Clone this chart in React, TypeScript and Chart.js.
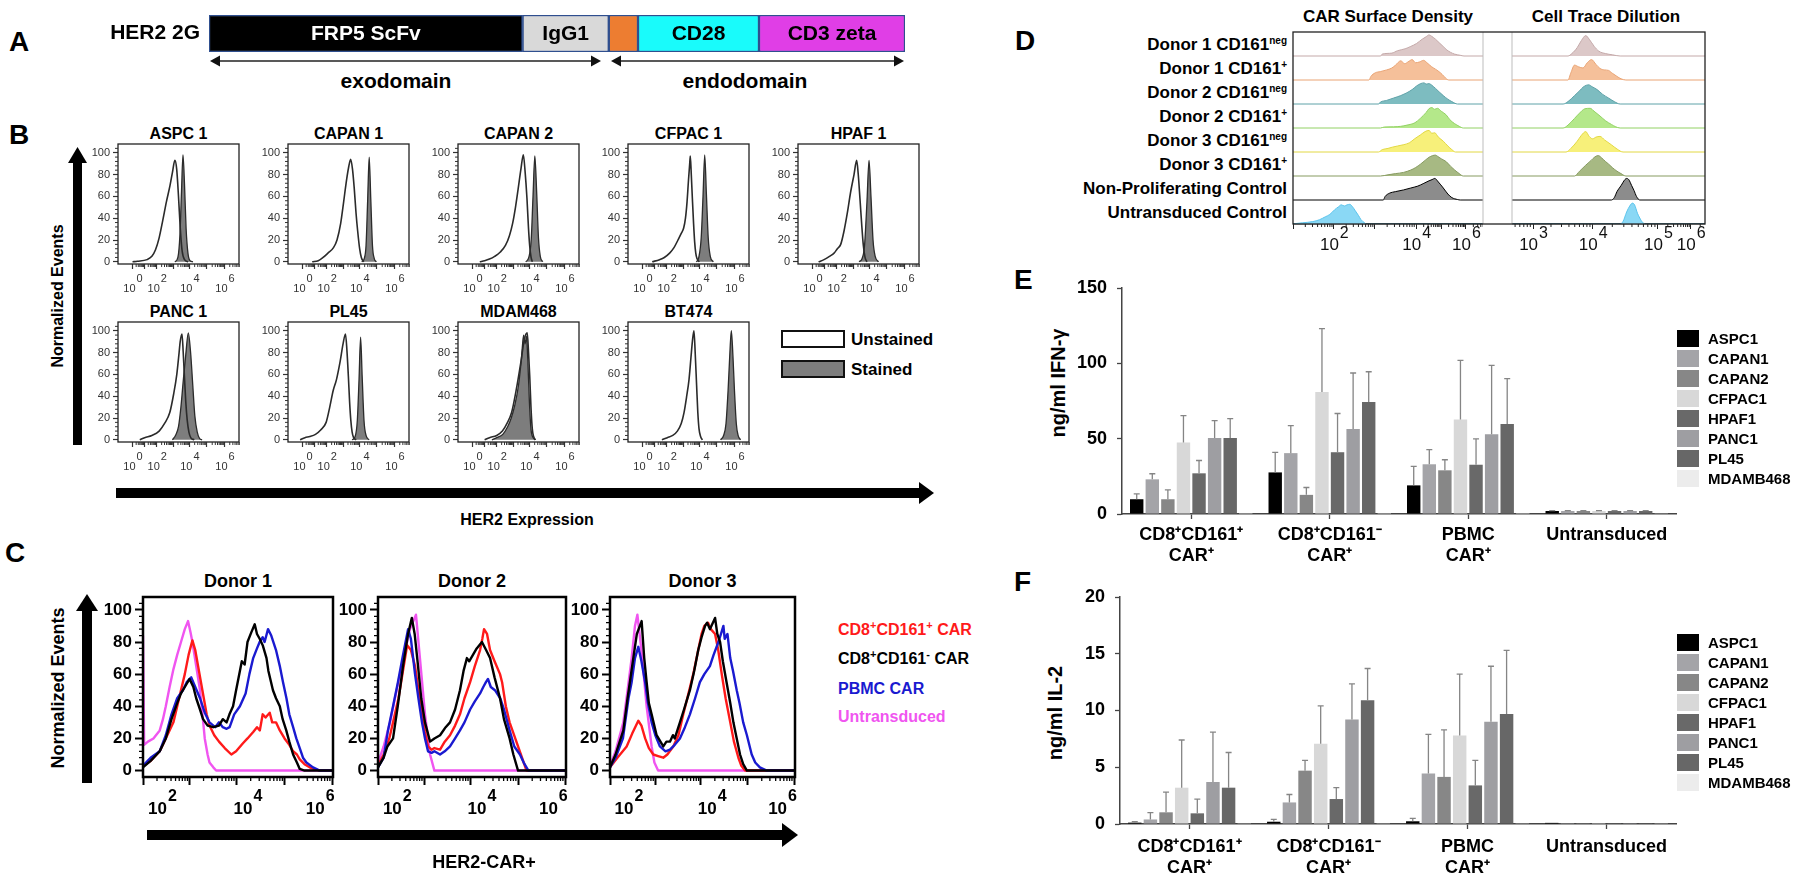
import React, { useEffect, useRef } from "react";
import { Chart, registerables } from "chart.js";

Chart.register(...registerables);

const FONT = "'Liberation Sans', Arial, Helvetica, sans-serif";

/* ================= Panel A data ================= */
const constructName = "HER2 2G";
const constructParts = ["FRP5 ScFv", "IgG1", "", "CD28", "CD3 zeta"];
const constructLengths = [45.1, 12.4, 4.2, 17.4, 21.0];
const constructColors = ["#000000", "#d9d9d9", "#ed7d31", "#19fbfb", "#e03ee6"];
const constructTextColors = ["#ffffff", "#000000", "#000000", "#000000", "#000000"];
const domainLabels = ["exodomain", "endodomain"];

/* ================= Panel B data ================= */
const bCellLines = ["ASPC 1", "CAPAN 1", "CAPAN 2", "CFPAC 1", "HPAF 1", "PANC 1", "PL45", "MDAM468", "BT474"];
const bYTicks = [0, 20, 40, 60, 80, 100];
const bDecades = [12, 22, 32, 45.5, 59, 73.5, 88, 102.5];
const bExpPos = [12, 32, 59, 88];
const bExpLabels = ["0", "2", "4", "6"];
const bLegend = ["Unstained", "Stained"];

const aspc1Unstained = [[12,0],[16,0.5],[24,2],[28,5],[31,11],[34,22],[37,38],[40,55],[43,70],[45,82],[47,93],[48.5,85],[50,60],[51.5,30],[53,10],[55,2],[58,0]];
const aspc1Stained = [[47,0],[49.5,4],[51.2,25],[52.5,65],[53.7,98],[55,70],[56.3,30],[57.8,8],[59.5,1],[62,0]];
const capan1Unstained = [[20,0],[25,1],[29,4],[33,8],[37.6,13],[40.5,20],[43.5,35],[46,55],[48,72],[50,86],[51.8,94],[53.3,85],[54.7,68],[56.2,45],[57.6,28],[59.2,12],[60.6,4],[62.6,0]];
const capan1Stained = [[61,0],[63,3],[64.5,15],[65.8,55],[67.1,96],[68.4,58],[69.8,15],[71.3,3],[73,0]];
const capan2Unstained = [[18,0],[22,1],[26,2.5],[30.3,5],[35,9],[39.2,15],[42.5,24],[45.1,35],[47.5,50],[49.6,66],[52,85],[54,98],[55.5,82],[57,58],[58.2,32],[59.3,14],[60.4,4],[61.5,0]];
const capan2Stained = [[56,0],[58.5,4],[60.5,20],[62,60],[63.5,97],[65,64],[66.5,22],[68,5],[70,0]];
const cfpac1Unstained = [[20,0],[26,2],[30,4],[34.4,8],[38,13],[41.3,20],[44,26],[46,31],[47.5,40],[48.8,55],[50,75],[51,90],[51.5,97],[52.3,80],[53.2,58],[54.2,35],[55.1,18],[56,8],[57,3],[59,0]];
const cfpac1Stained = [[56.5,0],[58.5,4],[60.5,22],[62,60],[63.4,98],[64.8,62],[66.3,22],[68,5],[70.5,0]];
const hpaf1Unstained = [[17,0],[21.5,2],[26,5],[29.8,8],[32.5,12],[35.3,16],[38,28],[40.8,45],[43.5,64],[46.3,80],[48.5,93],[49.8,80],[51.2,58],[52.6,35],[54,15],[55.4,4],[57,0]];
const hpaf1Stained = [[50.5,0],[53,3],[55,15],[57,55],[58.7,93],[60.3,60],[62,20],[63.8,5],[66.5,0]];
const panc1Unstained = [[18,0],[22,2],[28,4],[34,8],[38.5,15],[42.8,25],[46,42],[48.6,60],[50.5,80],[51.4,90],[52.9,97],[53.9,80],[54.9,58],[56,35],[57.2,18],[58.6,7],[60.1,2],[63,0]];
const panc1Stained = [[45,0],[47.5,4],[50,12],[52,30],[54,55],[56,78],[58.1,98],[60,80],[61.8,50],[63.5,22],[65.5,7],[67.5,1],[69.5,0]];
const pl45Unstained = [[10,0],[14,2],[18,3],[22.7,5],[27,9],[31.5,16],[34.5,30],[37.3,45],[40,55],[43.1,72],[45.5,88],[47.5,97],[48.7,82],[49.9,58],[50.9,35],[51.9,18],[53,7],[54.2,2],[56.3,0]];
const pl45Stained = [[53,0],[55.5,3],[57.3,18],[58.7,55],[60,94],[61.3,58],[62.8,18],[64.5,4],[67,0]];
const mdam468Unstained = [[22,0],[26,2],[32,4],[36.7,8],[40.5,15],[44.3,25],[48,45],[51.8,70],[54.8,92],[57.2,98],[58.3,80],[59.3,58],[60.3,30],[61.4,10],[62.5,3],[64,0]];
const mdam468Stained = [[28,0],[32,2],[37,5],[41,12],[44,20],[47,32],[50,50],[52.5,75],[54.2,96],[55.5,88],[56.6,95],[57.8,70],[59,35],[60.3,10],[62,2],[64,0]];
const bt474Unstained = [[28,0],[32.5,2],[37,4],[40.8,8],[44,15],[46.3,25],[48.5,40],[50.4,55],[52,75],[53.2,90],[54.5,100],[55.6,78],[56.7,50],[57.7,25],[58.7,10],[60,3],[61.5,0]];
const bt474Stained = [[76.5,0],[79,4],[81,15],[82.7,45],[84,75],[85.4,100],[86.8,75],[88,45],[89.5,15],[91,4],[93,0]];

const bUnstained = [aspc1Unstained, capan1Unstained, capan2Unstained, cfpac1Unstained, hpaf1Unstained, panc1Unstained, pl45Unstained, mdam468Unstained, bt474Unstained];
const bStained = [aspc1Stained, capan1Stained, capan2Stained, cfpac1Stained, hpaf1Stained, panc1Stained, pl45Stained, mdam468Stained, bt474Stained];

/* ================= Panel C data ================= */
const cDonors = ["Donor 1", "Donor 2", "Donor 3"];
const cYTicks = [0, 20, 40, 60, 80, 100];
const cDecades = [-24.5, 0, 24.5, 49, 74.5, 99.5];
const cExpPos = [10, 55, 93];
const cExpLabels = ["2", "4", "6"];
const cSeriesColors = ["#000000", "#1a1ad0", "#ff1a1a", "#f055f0"]; // CD161-, PBMC, CD161+, Untransduced

const donor1Cd161Neg = [[0,2],[4,6],[8.8,12],[12,20],[15,32],[18,42],[20,48],[22,52],[24.5,57],[26.5,52],[28,45],[30,38],[31.6,32],[34,28],[37,27],[40,28],[42,32],[44,30],[45.5,35],[47.4,40],[49,50],[51,62],[52,68],[53.5,66],[55,80],[57,86],[58.8,91],[60,85],[61.4,82],[63,78],[65,70],[66,62],[68.4,50],[70,45],[72,40],[73.5,32],[75.4,25],[77,18],[79,10],[81,5],[82.5,1],[85,0],[100,0]];
const donor1Pbmc = [[0,3],[4,8],[8.8,12],[12,22],[15,35],[18,45],[21,50],[23,55],[25.4,58],[27.5,52],[30,45],[32.5,36],[35,30],[38,27],[40,30],[42,27],[44,26],[45.6,27],[48,35],[51,40],[54,48],[56,60],[58,70],[60,76],[61.4,80],[63,83],[64,80],[65.8,88],[67.5,84],[70,75],[72,65],[73.7,55],[75.5,45],[77,35],[79,27],[80.7,20],[82.5,14],[84.2,8],[86,5],[89.5,2],[93,0],[100,0]];
const donor1Cd161Pos = [[0,3],[4,6],[8.8,12],[12,20],[16,30],[19,45],[22,60],[24,72],[26,81],[27.5,75],[29,65],[30.5,55],[32,45],[33.5,35],[35,28],[37.5,22],[40,18],[43,14],[46.5,10],[49,12],[52.6,17],[55,20],[58,24],[60,27],[61.5,25],[63,35],[64.5,33],[66.7,36],[68,30],[70,30],[72,25],[74.5,20],[77,16],[79,12],[81,10],[82.5,7],[85,4],[87.7,2],[90,1],[93,0],[100,0]];
const donor1Untransduced = [[0,84],[0.6,16],[2.6,18],[5.5,20],[8.8,25],[10.5,32],[12,40],[14,52],[16,63],[18,72],[20,80],[22,88],[23.7,93],[25,86],[26,80],[28,65],[30,50],[31.3,35],[32.5,20],[34,10],[35,5],[37,2],[38.5,0],[100,0]];

const donor2Cd161Neg = [[0,2],[3,8],[5,15],[8,20],[10.5,40],[13.3,65],[16,85],[18,95],[19.5,85],[21.3,65],[23,45],[25,30],[27.7,18],[30,20],[33,22],[36,27],[38.3,30],[41,38],[43.6,50],[45.5,62],[47.3,70],[48.5,68],[50.5,72],[52.5,76],[55.3,80],[57.5,75],[59.6,70],[62,58],[64.9,45],[67,32],[70,20],[72,10],[74.5,0],[100,0]];
const donor2Pbmc = [[0,2],[3,8],[5.3,25],[8,40],[10.6,55],[13,70],[16,88],[17.5,82],[19.7,60],[21.5,45],[23.4,30],[25,20],[26.6,12],[28.5,11],[30,12],[33,10],[35.5,12],[38.3,15],[41,20],[43.6,25],[46,30],[49,38],[51.5,43],[54.3,48],[56,52],[57.4,55],[58.5,57],[60,52],[62.2,50],[65,45],[67,38],[70,25],[72.5,15],[75.5,10],[77.5,5],[80,0],[100,0]];
const donor2Cd161Pos = [[0,3],[3,10],[6,20],[8,30],[10.9,45],[13,60],[15.5,78],[17.5,75],[19.7,65],[21.5,50],[23.4,35],[25,24],[26.6,15],[28.5,13],[30,14],[33,13],[35.5,18],[38.3,22],[41,28],[43.6,35],[46,45],[49,55],[51.5,65],[54.3,75],[55.5,82],[56.4,88],[58,85],[59.6,75],[62,68],[64.9,60],[66,55],[68,40],[70,30],[73,20],[76,10],[79,0],[100,0]];
const donor2Untransduced = [[0,5],[3,15],[6.4,30],[9,45],[11.7,60],[14.5,75],[17,88],[20.2,97],[22.3,70],[25,35],[27.7,10],[30,0],[100,0]];

const donor3Cd161Neg = [[0,2],[3,10],[7.2,25],[9.5,45],[12.6,70],[14.5,85],[17.1,93],[18.5,70],[19.8,55],[21,42],[22.5,35],[25.2,22],[28.8,15],[30.5,18],[32.4,18],[34,22],[35,20],[37.8,30],[40,38],[43.2,50],[45.5,62],[47.7,75],[49.5,83],[51.4,90],[52.5,92],[54,88],[56.8,95],[58,85],[59.5,80],[61,68],[63,55],[65,42],[66.7,30],[68.5,20],[70.3,10],[72,4],[74,0],[100,0]];
const donor3Pbmc = [[0,2],[3,8],[7,20],[10,45],[11.7,55],[13.5,70],[15.3,77],[17,68],[19,55],[20.5,42],[22.5,30],[24.5,22],[27,15],[30,12],[32.4,13],[35,16],[37.8,20],[40.5,27],[43.2,35],[46,45],[48.6,55],[51,60],[54,65],[56,72],[58.6,80],[60,85],[61.3,90],[62,82],[63.5,85],[65,70],[66.5,62],[68.5,50],[70,42],[72,30],[74,22],[76.6,10],[78.5,5],[81,2],[84.7,0],[100,0]];
const donor3Cd161Pos = [[0,2],[4,8],[9,15],[12,23],[15.3,31],[17,28],[19,20],[21,14],[23.4,10],[26,9],[28.8,8],[31,10],[34.2,15],[37,22],[39.6,35],[42,46],[45,60],[47.5,74],[49.5,85],[51,90],[53,92],[54.5,88],[56.8,85],[58.5,75],[60.4,60],[62.5,45],[65,30],[67,18],[69.4,8],[71,3],[73,0],[100,0]];
const donor3Untransduced = [[0,3],[3,12],[7.2,30],[9.5,50],[11.7,70],[13.5,90],[14.8,97],[17,75],[19.8,40],[22.5,15],[24,5],[26,0],[100,0]];

const cCurves = [
  [donor1Cd161Neg, donor1Pbmc, donor1Cd161Pos, donor1Untransduced],
  [donor2Cd161Neg, donor2Pbmc, donor2Cd161Pos, donor2Untransduced],
  [donor3Cd161Neg, donor3Pbmc, donor3Cd161Pos, donor3Untransduced],
];

/* ================= Panel D data ================= */
const dTitles = ["CAR Surface Density", "Cell Trace Dilution"];
const dRowNames = ["Donor 1 CD161", "Donor 1 CD161", "Donor 2 CD161", "Donor 2 CD161", "Donor 3 CD161", "Donor 3 CD161", "Non-Proliferating Control", "Untransduced Control"];
const dRowSups = ["neg", "+", "neg", "+", "neg", "+", "", ""];
const dFill = ["#dcc8c8", "#f5c09a", "#7dbcc0", "#b4e88a", "#f7f07a", "#a7b983", "#8c8c8c", "#8ad8f5"];
const dLine = ["#c4a9a9", "#e9a475", "#5fa2a8", "#92d164", "#e2d844", "#879b61", "#000000", "#5cc4ec"];
const dCarDecades = [0, 21.5, 43, 64.8, 78, 91, 104];
const dCarExpPos = [21.5, 64.8, 91];
const dCarExpLabels = ["2", "4", "6"];
const dCtdDecades = [-20, 10.9, 41.8, 75.6, 92.6, 109];
const dCtdExpPos = [10.9, 41.8, 75.6, 92.6];
const dCtdExpLabels = ["3", "4", "5", "6"];

const carDonor1Neg = [[0,0],[46,0],[47,0.08],[52,0.12],[55,0.22],[59,0.3],[62,0.4],[65,0.52],[68,0.7],[70,0.8],[71.6,0.88],[73,0.82],[75,0.7],[77,0.55],[79,0.4],[81,0.25],[83,0.15],[85,0.08],[88,0.03],[90,0],[100,0]];
const carDonor1Pos = [[0,0],[40,0],[41,0.15],[43.3,0.3],[46,0.35],[49.3,0.42],[52,0.5],[54,0.62],[56.7,0.8],[58.8,0.68],[61,0.78],[62.7,0.85],[64.5,0.72],[66.5,0.75],[68.7,0.82],[70.5,0.72],[73,0.55],[75,0.45],[77.6,0.3],[79.5,0.15],[81,0.03],[82,0],[100,0]];
const carDonor2Neg = [[0,0],[45,0],[46,0.08],[49.3,0.15],[53,0.25],[56.7,0.35],[59.5,0.45],[62.7,0.6],[65,0.75],[67.2,0.85],[69,0.88],[70.1,0.83],[71.5,0.85],[73.1,0.78],[75,0.65],[77,0.5],[79.1,0.35],[81.5,0.2],[83.6,0.1],[86.6,0],[100,0]];
const carDonor2Pos = [[0,0],[46,0],[48,0.04],[53,0.05],[56.7,0.07],[60,0.12],[64.2,0.22],[67,0.4],[70.1,0.65],[71.5,0.8],[73.1,0.85],[74.5,0.78],[76.1,0.82],[78,0.7],[80.6,0.55],[82.5,0.35],[85.1,0.18],[87.5,0.07],[89.6,0],[100,0]];
const carDonor3Neg = [[0,0],[45,0],[47,0.1],[50,0.15],[52.2,0.2],[55,0.25],[58,0.3],[61.2,0.38],[64,0.55],[67.2,0.72],[69.5,0.85],[71.6,0.9],[73,0.78],[74.6,0.8],[76.5,0.62],[79.1,0.45],[81.5,0.25],[83.6,0.1],[85.5,0],[100,0]];
const carDonor3Pos = [[0,0],[46,0],[50,0.05],[54,0.1],[58.2,0.15],[62,0.25],[64.5,0.35],[67.2,0.5],[69.5,0.65],[71.6,0.78],[73.5,0.85],[75,0.87],[76.1,0.82],[78,0.72],[80.6,0.6],[83,0.4],[85.1,0.25],[87.5,0.1],[89.6,0],[100,0]];
const carNonProlif = [[0,0],[47.5,0],[48.5,0.15],[50.7,0.28],[54,0.35],[58.2,0.42],[62,0.5],[65.7,0.58],[68.5,0.68],[71.6,0.8],[73.2,0.85],[74.6,0.9],[76.5,0.75],[79.1,0.5],[81.5,0.25],[83.6,0.1],[86.6,0.02],[88,0],[100,0]];
const carUntransduced = [[0,0],[1.5,0.02],[5,0.05],[10.4,0.1],[14,0.18],[17,0.3],[19.4,0.4],[22,0.6],[24,0.72],[25.4,0.8],[27,0.75],[28.5,0.8],[29.9,0.82],[31.5,0.7],[32.8,0.55],[34.5,0.35],[35.8,0.18],[37.5,0.06],[38.8,0],[100,0]];

const ctdDonor1Neg = [[0,0],[29,0],[31,0.1],[33.8,0.35],[36,0.65],[38.2,0.85],[40,0.7],[42.6,0.4],[45,0.2],[48.5,0.1],[52,0.05],[56,0],[100,0]];
const ctdDonor1Pos = [[0,0],[29,0],[30.5,0.3],[32.4,0.62],[34.5,0.55],[36.8,0.5],[39,0.72],[41.2,0.85],[43.5,0.65],[45.6,0.48],[48,0.42],[50,0.4],[52,0.28],[54.4,0.15],[56.5,0.05],[59,0],[100,0]];
const ctdDonor2Neg = [[0,0],[26.5,0],[29,0.1],[32.4,0.35],[35,0.55],[36.8,0.7],[38.5,0.78],[39.7,0.8],[41.5,0.72],[44.1,0.6],[47,0.4],[50,0.25],[53,0.1],[56,0],[100,0]];
const ctdDonor2Pos = [[0,0],[26.5,0],[29,0.12],[32.4,0.4],[35,0.62],[37.7,0.8],[40.5,0.82],[42.5,0.7],[45.6,0.5],[48.5,0.3],[51.5,0.15],[53.5,0.06],[56,0],[100,0]];
const ctdDonor3Neg = [[0,0],[28,0],[30.5,0.15],[33.8,0.45],[36,0.7],[38.2,0.85],[40,0.65],[41.8,0.55],[43.5,0.62],[45.6,0.65],[48,0.5],[51.5,0.3],[54.5,0.12],[57.5,0],[100,0]];
const ctdDonor3Pos = [[0,0],[32.4,0],[35,0.2],[38.2,0.45],[41,0.65],[43,0.8],[44.7,0.85],[46.5,0.75],[48.5,0.6],[50,0.5],[52,0.35],[54.4,0.2],[56.5,0.1],[59,0],[100,0]];
const ctdNonProlif = [[0,0],[51.5,0],[53,0.1],[54.4,0.35],[56.5,0.6],[58.5,0.85],[59.4,0.9],[60.5,0.85],[62,0.6],[63.2,0.4],[64.5,0.15],[66.2,0],[100,0]];
const ctdUntransduced = [[0,0],[55.9,0],[57.5,0.1],[59.4,0.5],[61,0.75],[62.4,0.87],[63.5,0.8],[65,0.45],[66.2,0.25],[67.5,0.08],[69.1,0],[100,0]];

const dCarRows = [carDonor1Neg, carDonor1Pos, carDonor2Neg, carDonor2Pos, carDonor3Neg, carDonor3Pos, carNonProlif, carUntransduced];
const dCtdRows = [ctdDonor1Neg, ctdDonor1Pos, ctdDonor2Neg, ctdDonor2Pos, ctdDonor3Neg, ctdDonor3Pos, ctdNonProlif, ctdUntransduced];

/* ================= Panels E & F data ================= */
const cellLines = ["ASPC1", "CAPAN1", "CAPAN2", "CFPAC1", "HPAF1", "PANC1", "PL45", "MDAMB468"];
const cellColors = ["#000000", "#a4a4a8", "#878787", "#d8d8d8", "#696969", "#9e9ea2", "#676767", "#ececec"];
const groupLabels = [["CD8⁺CD161⁺", "CAR⁺"], ["CD8⁺CD161⁻", "CAR⁺"], ["PBMC", "CAR⁺"], ["Untransduced"]];

const ifnCd161Pos = [9.8, 23, 9.8, 47.5, 27, 50.4, 50.4, 0.6];
const ifnCd161PosErr = [3.5, 3.7, 6.2, 17.8, 8.5, 11.6, 12.9, 0];
const ifnCd161Neg = [27.6, 40.4, 12.7, 81, 41, 56.4, 74.4, 0.6];
const ifnCd161NegErr = [13.3, 18.3, 4.9, 42, 25.7, 37.2, 20, 0];
const ifnPbmc = [19, 33, 29, 62.7, 32.7, 52.9, 59.8, 0.6];
const ifnPbmcErr = [12.6, 9.7, 7, 39.3, 17.1, 45.8, 30, 0];
const ifnUntransduced = [2, 2, 2, 2, 2, 2, 2, 0.5];
const ifnUntransducedErr = [0.3, 0.2, 0.2, 0.2, 0.2, 0.2, 0.2, 0];

const il2Cd161Pos = [0.12, 0.4, 1.03, 3.2, 0.94, 3.7, 3.2, 0.02];
const il2Cd161PosErr = [0.08, 0.6, 1.77, 4.2, 1.26, 4.4, 3.1, 0];
const il2Cd161Neg = [0.2, 1.9, 4.7, 7.06, 2.2, 9.2, 10.9, 0.02];
const il2Cd161NegErr = [0.2, 0.7, 0.9, 3.34, 1.0, 3.15, 2.8, 0];
const il2Pbmc = [0.24, 4.45, 4.15, 7.8, 3.4, 9.0, 9.7, 0.02];
const il2PbmcErr = [0.26, 3.45, 4.15, 5.4, 2.2, 4.9, 5.6, 0];
const il2Untransduced = [0.1, 0.08, 0.08, 0.08, 0.08, 0.08, 0.08, 0.02];
const il2UntransducedErr = [0, 0, 0, 0, 0, 0, 0, 0];

/* ================= helpers & plugins ================= */
const toXY = (pts: number[][]) => pts.map(([x, y]) => ({ x, y }));

function logMinors(decades: number[]) {
  const out: number[] = [];
  for (let i = 0; i < decades.length - 1; i++) {
    const a = decades[i], b = decades[i + 1];
    for (let k = 2; k <= 9; k++) out.push(a + (b - a) * Math.log10(k));
  }
  return out;
}

function stepMinors(min: number, max: number, step: number, skip: number) {
  const out: number[] = [];
  for (let v = min; v <= max + 1e-9; v += step) if (Math.abs(v % skip) > 1e-6) out.push(v);
  return out;
}

function makeFrame(color: string, width: number) {
  return {
    id: "frame",
    afterDatasetsDraw(chart: any) {
      const { left, top, right, bottom } = chart.chartArea;
      const ctx = chart.ctx;
      ctx.save();
      ctx.strokeStyle = color;
      ctx.lineWidth = width;
      ctx.strokeRect(left, top, right - left, bottom - top);
      ctx.restore();
    },
  };
}

function makeExpTicks(o: any) {
  return {
    id: "expTicks",
    afterDraw(chart: any) {
      const xs = chart.scales.x;
      const ctx = chart.ctx;
      const b = chart.chartArea.bottom;
      ctx.save();
      ctx.fillStyle = o.color;
      ctx.textBaseline = "middle";
      ctx.textAlign = "left";
      o.pos.forEach((v: number, i: number) => {
        const px = xs.getPixelForValue(v);
        ctx.font = o.font;
        const w1 = ctx.measureText("10").width;
        ctx.font = o.supFont;
        const w2 = ctx.measureText(o.labels[i]).width;
        const x0 = px - (w1 + w2) / 2;
        ctx.font = o.font;
        ctx.fillText("10", x0, b + o.dy);
        ctx.font = o.supFont;
        ctx.fillText(o.labels[i], x0 + w1 + 1, b + o.supDy);
      });
      ctx.restore();
    },
  };
}

function makeMinorTicks(o: any) {
  return {
    id: "minorTicks",
    afterDraw(chart: any) {
      const { left, right, top, bottom } = chart.chartArea;
      const ctx = chart.ctx;
      ctx.save();
      ctx.strokeStyle = o.color;
      ctx.lineWidth = o.width;
      ctx.beginPath();
      (o.x || []).forEach((v: number) => {
        const px = chart.scales.x.getPixelForValue(v);
        if (px < left - 0.5 || px > right + 0.5) return;
        ctx.moveTo(px, bottom);
        ctx.lineTo(px, bottom + o.len);
      });
      (o.y || []).forEach((v: number) => {
        const py = chart.scales.y.getPixelForValue(v);
        if (py < top - 0.5 || py > bottom + 0.5) return;
        ctx.moveTo(left, py);
        ctx.lineTo(left - o.len, py);
      });
      ctx.stroke();
      ctx.restore();
    },
  };
}

const errorBarPlugin = {
  id: "errorBars",
  afterDatasetsDraw(chart: any) {
    const ctx = chart.ctx;
    const ys = chart.scales.y;
    ctx.save();
    ctx.strokeStyle = "#858585";
    ctx.lineWidth = 1.3;
    chart.data.datasets.forEach((ds: any, i: number) => {
      const meta = chart.getDatasetMeta(i);
      meta.data.forEach((bar: any, j: number) => {
        const e = ds.errors[j];
        if (!e) return;
        const yTop = ys.getPixelForValue(ds.data[j] + e);
        ctx.beginPath();
        ctx.moveTo(bar.x, bar.y);
        ctx.lineTo(bar.x, yTop);
        ctx.moveTo(bar.x - 3, yTop);
        ctx.lineTo(bar.x + 3, yTop);
        ctx.stroke();
      });
    });
    ctx.restore();
  },
};

function makeBarText(colors: string[], font: string) {
  return {
    id: "barText",
    afterDatasetsDraw(chart: any) {
      const ctx = chart.ctx;
      ctx.save();
      ctx.font = font;
      ctx.textAlign = "center";
      ctx.textBaseline = "middle";
      chart.data.datasets.forEach((ds: any, i: number) => {
        if (!ds.label) return;
        const el = chart.getDatasetMeta(i).data[0];
        ctx.fillStyle = colors[i];
        ctx.fillText(ds.label, (el.x + el.base) / 2, el.y + 1);
      });
      ctx.restore();
    },
  };
}

function histConfig(datasets: any[], o: any, extraPlugins: any[]) {
  return {
    type: "line",
    data: { datasets },
    options: {
      responsive: false,
      animation: false,
      devicePixelRatio: 1,
      events: [],
      layout: { padding: { top: o.padTop, right: o.padRight, left: 0, bottom: 0 } },
      plugins: { legend: { display: false }, tooltip: { enabled: false } },
      elements: { point: { radius: 0 }, line: { borderJoinStyle: "round" } },
      scales: {
        x: {
          type: "linear",
          min: 0,
          max: 100,
          afterBuildTicks: (s: any) => {
            s.ticks = o.decades.filter((v: number) => v >= 0 && v <= 100).map((v: number) => ({ value: v }));
          },
          afterFit: (s: any) => {
            s.height = o.xAxisH;
            s.paddingLeft = 0;
            s.paddingRight = 0;
          },
          ticks: { display: false },
          grid: { drawOnChartArea: false, tickLength: o.majorLen, tickWidth: o.tickWidth, tickColor: o.tickColor },
          border: { display: !!o.xBorder, color: o.tickColor, width: o.xBorder || 1 },
        },
        y: o.noY
          ? { display: false, min: o.yMin, max: o.yMax }
          : {
              min: o.yMin,
              max: o.yMax,
              afterBuildTicks: (s: any) => {
                s.ticks = o.yTicks.map((v: number) => ({ value: v }));
              },
              afterFit: (s: any) => {
                s.width = o.yAxisW;
                s.paddingTop = 0;
                s.paddingBottom = 0;
              },
              ticks: { font: o.yFont, color: o.yColor, padding: o.yPad },
              grid: { drawOnChartArea: false, tickLength: o.majorLen, tickWidth: o.tickWidth, tickColor: o.tickColor },
              border: { display: false },
            },
      },
    },
    plugins: extraPlugins,
  };
}

function barConfig(means: number[][], errs: number[][], o: any) {
  const datasets = cellLines.map((name, i) => ({
    label: name,
    data: means.map((g) => g[i]),
    errors: errs.map((g) => g[i]),
    backgroundColor: cellColors[i],
    borderWidth: 0,
    barPercentage: 0.86,
    categoryPercentage: 0.9,
  }));
  return {
    type: "bar",
    data: { labels: groupLabels, datasets },
    options: {
      responsive: false,
      animation: false,
      devicePixelRatio: 1,
      events: [],
      layout: { padding: { top: o.padTop, right: o.padRight, left: 0, bottom: 0 } },
      plugins: { legend: { display: false }, tooltip: { enabled: false } },
      scales: {
        x: {
          afterFit: (s: any) => {
            s.height = o.xAxisH;
            s.paddingLeft = 0;
            s.paddingRight = 0;
          },
          ticks: { font: { family: FONT, size: 18, weight: "bold" }, color: "#000", padding: o.labelPad, maxRotation: 0, autoSkip: false },
          grid: { drawOnChartArea: false, offset: false, tickLength: 5, tickColor: "#444", tickWidth: 1.3 },
          border: { color: "#444", width: 1.5 },
        },
        y: {
          min: 0,
          max: o.yMax,
          ticks: { stepSize: o.yStep, font: { family: FONT, size: 18, weight: "bold" }, color: "#000", padding: 10 },
          afterFit: (s: any) => {
            s.width = o.yAxisW;
            s.paddingTop = 0;
            s.paddingBottom = 0;
          },
          grid: { drawOnChartArea: false, tickLength: 5, tickColor: "#444", tickWidth: 1.3 },
          border: { color: "#444", width: 1.5 },
        },
      },
    },
    plugins: [errorBarPlugin],
  };
}

function ChartCanvas({ x, y, w, h, build }: any) {
  const ref = useRef<HTMLCanvasElement | null>(null);
  useEffect(() => {
    const c = ref.current;
    if (!c) return;
    const chart = new Chart(c, build());
    return () => chart.destroy();
  }, []);
  return <canvas ref={ref} width={w} height={h} style={{ position: "absolute", left: x, top: y, width: w, height: h }} />;
}

function T({ x, y, s = 16, b = true, a = "l", c = "#000", r = 0, children }: any) {
  const tx = a === "l" ? "0%" : a === "c" ? "-50%" : "-100%";
  return (
    <div
      style={{
        position: "absolute",
        left: x,
        top: y,
        transform: `translate(${tx}, -50%)` + (r ? ` rotate(${r}deg)` : ""),
        fontFamily: FONT,
        fontSize: s,
        fontWeight: b ? 700 : 400,
        color: c,
        lineHeight: 1,
        whiteSpace: "nowrap",
      }}
    >
      {children}
    </div>
  );
}

const Sup = ({ children, s = 11, dy = -6 }: any) => (
  <span style={{ fontSize: s, position: "relative", top: dy }}>{children}</span>
);

/* ================= layout constants ================= */
const B_COLS = [118, 288, 458, 628, 798];
const B_ROWS = [144, 322];
const B_W = 121;
const B_H = 120;
const C_BOXES = [
  [143, 190],
  [378, 188],
  [610, 185],
];
const C_TOP = 597;
const C_H = 180;

export default function App() {
  const bPanels = bCellLines.map((name, i) => {
    const col = i < 5 ? i : i - 5;
    const row = i < 5 ? 0 : 1;
    return { name, i, left: B_COLS[col], top: B_ROWS[row] };
  });

  return (
    <div style={{ position: "absolute", left: 0, top: 0, width: 1800, height: 882, background: "#fff", overflow: "hidden" }}>
      {/* ---------- Panel A ---------- */}
      <T x={9} y={42} s={28}>A</T>
      <ChartCanvas
        x={100}
        y={15}
        w={805}
        h={37}
        build={() => ({
          type: "bar",
          data: {
            labels: [constructName],
            datasets: constructParts.map((p, i) => ({
              label: p,
              data: [constructLengths[i]],
              backgroundColor: constructColors[i],
              borderColor: "#2f4f8f",
              borderWidth: 1.5,
              borderSkipped: false,
              barPercentage: 1,
              categoryPercentage: 1,
            })),
          },
          options: {
            indexAxis: "y",
            responsive: false,
            animation: false,
            devicePixelRatio: 1,
            events: [],
            layout: { padding: 0 },
            plugins: { legend: { display: false }, tooltip: { enabled: false } },
            scales: {
              x: { stacked: true, min: 0, max: 100.1, display: false },
              y: {
                stacked: true,
                afterFit: (s: any) => {
                  s.width = 109;
                  s.paddingTop = 0;
                  s.paddingBottom = 0;
                },
                grid: { display: false, drawTicks: false },
                border: { display: false },
                ticks: { font: { family: FONT, size: 21, weight: "bold" }, color: "#000", padding: 9 },
              },
            },
          },
          plugins: [makeBarText(constructTextColors, `bold 21px ${FONT}`)],
        })}
      />
      <T x={396} y={80} s={21} a="c">{domainLabels[0]}</T>
      <T x={745} y={80} s={21} a="c">{domainLabels[1]}</T>

      {/* ---------- Panel B ---------- */}
      <T x={9} y={135} s={28}>B</T>
      {bPanels.map((p) => (
        <React.Fragment key={p.name}>
          <T x={p.left + B_W / 2} y={p.top - 10} s={16} a="c">{p.name}</T>
          <ChartCanvas
            x={p.left - 30}
            y={p.top - 8}
            w={30 + B_W + 3}
            h={8 + B_H + 34}
            build={() =>
              histConfig(
                [
                  { data: toXY(bUnstained[p.i]), borderColor: "#2b2b2b", borderWidth: 1.6, fill: false, cubicInterpolationMode: "monotone" },
                  { data: toXY(bStained[p.i]), borderColor: "#2b2b2b", borderWidth: 1.3, backgroundColor: "#7d7d7d", fill: "origin", cubicInterpolationMode: "monotone" },
                ],
                {
                  padTop: 8, padRight: 3, xAxisH: 34, yAxisW: 30, yMin: -2, yMax: 108, yTicks: bYTicks,
                  decades: bDecades, majorLen: 5, tickWidth: 1.2, tickColor: "#333", xBorder: 0,
                  yFont: { family: FONT, size: 11 }, yColor: "#333", yPad: 3,
                },
                [
                  makeFrame("#222", 1.3),
                  makeMinorTicks({ x: logMinors(bDecades), y: stepMinors(0, 104, 4, 20), len: 3, color: "#333", width: 1 }),
                  makeExpTicks({ pos: bExpPos, labels: bExpLabels, font: `11px ${FONT}`, supFont: `11px ${FONT}`, color: "#333", dy: 25, supDy: 15 }),
                ]
              )
            }
          />
        </React.Fragment>
      ))}
      <T x={58} y={296} s={16} a="c" r={-90}>Normalized Events</T>
      <T x={527} y={520} s={16} a="c">HER2 Expression</T>
      <div style={{ position: "absolute", left: 781, top: 330, width: 60, height: 14, border: "2px solid #111", background: "#fff" }} />
      <div style={{ position: "absolute", left: 781, top: 360, width: 60, height: 14, border: "2px solid #111", background: "#7d7d7d" }} />
      <T x={851} y={339} s={17}>{bLegend[0]}</T>
      <T x={851} y={369} s={17}>{bLegend[1]}</T>

      {/* ---------- Panel C ---------- */}
      <T x={5} y={553} s={28}>C</T>
      {cDonors.map((d, i) => {
        const [left, w] = C_BOXES[i];
        return (
          <React.Fragment key={d}>
            <T x={left + w / 2} y={581} s={18} a="c">{d}</T>
            <ChartCanvas
              x={left - 45}
              y={C_TOP - 12}
              w={45 + w + 4}
              h={12 + C_H + 45}
              build={() =>
                histConfig(
                  cCurves[i].map((pts, k) => ({
                    data: toXY(pts),
                    borderColor: cSeriesColors[k],
                    borderWidth: 2.4,
                    fill: false,
                    tension: 0,
                  })),
                  {
                    padTop: 12, padRight: 4, xAxisH: 45, yAxisW: 45, yMin: -4, yMax: 108, yTicks: cYTicks,
                    decades: cDecades, majorLen: 8, tickWidth: 2, tickColor: "#000", xBorder: 0,
                    yFont: { family: FONT, size: 17, weight: "bold" }, yColor: "#000", yPad: 3,
                  },
                  [
                    makeFrame("#000", 2.5),
                    makeMinorTicks({ x: logMinors(cDecades), y: stepMinors(0, 104, 4, 20), len: 4, color: "#000", width: 1.3 }),
                    makeExpTicks({ pos: cExpPos, labels: cExpLabels, font: `bold 17px ${FONT}`, supFont: `bold 16px ${FONT}`, color: "#000", dy: 32, supDy: 20 }),
                  ]
                )
              }
            />
          </React.Fragment>
        );
      })}
      <T x={58} y={688} s={18} a="c" r={-90}>Normalized Events</T>
      <T x={484} y={862} s={18} a="c">HER2-CAR+</T>
      <T x={838} y={630} s={16} c={cSeriesColors[2]}>CD8<Sup>+</Sup>CD161<Sup>+</Sup> CAR</T>
      <T x={838} y={659} s={16} c={cSeriesColors[0]}>CD8<Sup>+</Sup>CD161<Sup>-</Sup> CAR</T>
      <T x={838} y={689} s={16} c={cSeriesColors[1]}>PBMC CAR</T>
      <T x={838} y={717} s={16} c={cSeriesColors[3]}>Untransduced</T>

      {/* ---------- Panel D ---------- */}
      <T x={1015} y={41} s={28}>D</T>
      <T x={1388} y={16} s={17} a="c">{dTitles[0]}</T>
      <T x={1606} y={16} s={17} a="c">{dTitles[1]}</T>
      {dRowNames.map((n, i) => (
        <T key={i} x={1287} y={44 + 24 * i} s={17} a="r">
          {n}
          {dRowSups[i] ? <Sup s={10} dy={-6}>{dRowSups[i]}</Sup> : null}
        </T>
      ))}
      {[
        { x: 1293, w: 190, rows: dCarRows, dec: dCarDecades, pos: dCarExpPos, lab: dCarExpLabels },
        { x: 1512, w: 193, rows: dCtdRows, dec: dCtdDecades, pos: dCtdExpPos, lab: dCtdExpLabels },
      ].map((pn, pi) => (
        <ChartCanvas
          key={pi}
          x={pn.x}
          y={32}
          w={pn.w}
          h={192 + 32}
          build={() =>
            histConfig(
              pn.rows.map((pts, r) => {
                const base = 7 - r;
                return {
                  data: pts.map(([x, v]) => ({ x, y: base + v })),
                  borderColor: dLine[r],
                  backgroundColor: dFill[r],
                  fill: { value: base },
                  borderWidth: 1,
                  cubicInterpolationMode: "monotone",
                };
              }),
              {
                padTop: 0, padRight: 0, xAxisH: 32, noY: true, yMin: 0, yMax: 8,
                decades: pn.dec, majorLen: 5, tickWidth: 1, tickColor: "#222", xBorder: 1.2,
              },
              [
                makeMinorTicks({ x: logMinors(pn.dec), len: 3, color: "#222", width: 1 }),
                makeExpTicks({ pos: pn.pos, labels: pn.lab, font: `17px ${FONT}`, supFont: `16px ${FONT}`, color: "#111", dy: 21, supDy: 10 }),
              ]
            )
          }
        />
      ))}

      {/* ---------- Panel E ---------- */}
      <T x={1014} y={280} s={28}>E</T>
      <T x={1058} y={383} s={20} a="c" r={-90}>ng/ml IFN-γ</T>
      <ChartCanvas
        x={1060}
        y={278}
        w={620}
        h={296}
        build={() =>
          barConfig(
            [ifnCd161Pos, ifnCd161Neg, ifnPbmc, ifnUntransduced],
            [ifnCd161PosErr, ifnCd161NegErr, ifnPbmcErr, ifnUntransducedErr],
            { padTop: 10, padRight: 4, yAxisW: 62, xAxisH: 60, yMax: 150, yStep: 50, labelPad: 5 }
          )
        }
      />
      {cellLines.map((n, i) => (
        <React.Fragment key={"e" + n}>
          <div style={{ position: "absolute", left: 1677, top: 338 + 20 * i - 8, width: 22, height: 17, background: cellColors[i] }} />
          <T x={1708} y={338 + 20 * i} s={15}>{n}</T>
        </React.Fragment>
      ))}

      {/* ---------- Panel F ---------- */}
      <T x={1014} y={582} s={28}>F</T>
      <T x={1055} y={713} s={20} a="c" r={-90}>ng/ml IL-2</T>
      <ChartCanvas
        x={1058}
        y={587}
        w={622}
        h={295}
        build={() =>
          barConfig(
            [il2Cd161Pos, il2Cd161Neg, il2Pbmc, il2Untransduced],
            [il2Cd161PosErr, il2Cd161NegErr, il2PbmcErr, il2UntransducedErr],
            { padTop: 10, padRight: 4, yAxisW: 62, xAxisH: 58, yMax: 20, yStep: 5, labelPad: 7 }
          )
        }
      />
      {cellLines.map((n, i) => (
        <React.Fragment key={"f" + n}>
          <div style={{ position: "absolute", left: 1677, top: 642 + 20 * i - 8, width: 22, height: 17, background: cellColors[i] }} />
          <T x={1708} y={642 + 20 * i} s={15}>{n}</T>
        </React.Fragment>
      ))}

      {/* ---------- arrows & frames ---------- */}
      <svg width={1800} height={882} style={{ position: "absolute", left: 0, top: 0, pointerEvents: "none" }}>
        {/* A domain arrows */}
        <line x1={218} y1={61} x2={593} y2={61} stroke="#222" strokeWidth={1.6} />
        <polygon points="210,61 220,55.5 220,66.5" fill="#111" />
        <polygon points="601,61 591,55.5 591,66.5" fill="#111" />
        <line x1={619} y1={61} x2={896} y2={61} stroke="#222" strokeWidth={1.6} />
        <polygon points="611,61 621,55.5 621,66.5" fill="#111" />
        <polygon points="904,61 894,55.5 894,66.5" fill="#111" />
        {/* B arrows */}
        <rect x={73} y={160} width={9} height={285} fill="#000" />
        <polygon points="77.5,147 68,163 87,163" fill="#000" />
        <rect x={116} y={488} width={806} height={10} fill="#000" />
        <polygon points="934,493 919,482 919,504" fill="#000" />
        {/* C arrows */}
        <rect x={82} y={608} width={10} height={175} fill="#000" />
        <polygon points="87,594 76,611 98,611" fill="#000" />
        <rect x={147} y={830} width={637} height={10} fill="#000" />
        <polygon points="798,835 782,823 782,847" fill="#000" />
        {/* D frame */}
        <line x1={1483} y1={32} x2={1483} y2={224} stroke="#bdbdbd" strokeWidth={1} />
        <line x1={1512} y1={32} x2={1512} y2={224} stroke="#bdbdbd" strokeWidth={1} />
        <rect x={1293} y={32} width={412} height={192} fill="none" stroke="#222" strokeWidth={1.3} />
      </svg>
    </div>
  );
}
